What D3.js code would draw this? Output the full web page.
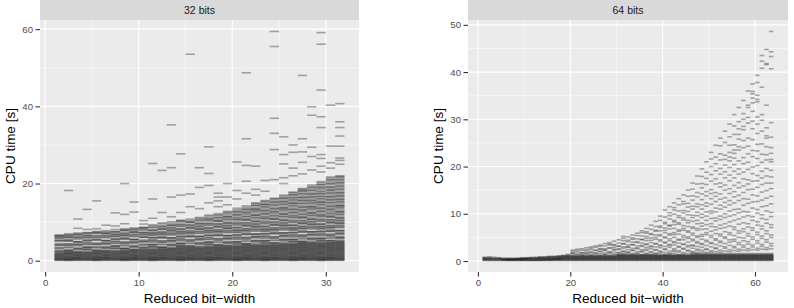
<!DOCTYPE html>
<html lang="en">
<head>
<meta charset="UTF-8">
<title>CPU time by reduced bit-width</title>
<script src="https://d3js.org/d3.v7.min.js"></script>
<style>
  body { margin: 0; background: #fff; font-family: "Liberation Sans", Arial, sans-serif; }
  .tick text { fill: #4d4d4d; font-size: 9.6px; font-family: "Liberation Sans", Arial, sans-serif; }
  .tick line { stroke: #333; }
</style>
</head>
<body>
<script>
// facet labels
const facetTitles = ["32 bits", "64 bits"];

// reduced bit-width columns
const bits32 = [1,2,3,4,5,6,7,8,9,10,11,12,13,14,15,16,17,18,19,20,21,22,23,24,25,26,27,28,29,30,31];
const bits64 = [1,2,3,4,5,6,7,8,9,10,11,12,13,14,15,16,17,18,19,20,21,22,23,24,25,26,27,28,29,30,31,32,
  33,34,35,36,37,38,39,40,41,42,43,44,45,46,47,48,49,50,51,52,53,54,55,56,57,58,59,60,61,62,63];

// CPU times [s], one list per bit-width column
const cpu32 = [
  [0.1,0.2,0.3,0.5,0.6,0.7,0.9,1.0,1.2,1.3,1.5,1.6,1.8,1.9,2.1, 2.3,2.5,2.6,3.0,3.3,3.4,3.9,4.1,4.2,4.5,5.1,5.2,5.4,5.8,5.9,6.2,6.4,6.5,6.7],
  [0.05,0.15,0.25,0.4,0.45,0.65,0.8,0.85,1.05,1.15,1.35,1.45,1.7,1.75,1.95,2.05,2.3,2.35, 2.6,2.7,2.8,3.3,3.5,3.9,4.0,4.3,4.4,5.0,5.2,5.3,5.6,6.0,6.1,6.3,6.6,6.7,7.0, 18.2],
  [0.1,0.15,0.35,0.45,0.55,0.75,0.8,0.95,1.1,1.25,1.4,1.55,1.65,1.85,2.0,2.15,2.25, 2.4,2.8,3.0,3.2,3.3,3.8,4.1,4.2,4.4,4.8,4.9,5.0,5.6,5.8,6.1,6.2,6.6,6.8,6.9,7.2, 8.4,10.8],
  [0.1,0.2,0.3,0.5,0.6,0.7,0.9,1.0,1.2,1.3,1.5,1.6,1.8,1.9,2.1,2.2,2.4, 2.8,2.9,3.1,3.4,3.5,3.6,4.1,4.3,4.6,4.7,5.1,5.3,5.4,5.9,6.0,6.3,6.5,6.6,7.0,7.2,7.3, 8.1,13.3],
  [0.05,0.15,0.25,0.4,0.45,0.65,0.8,0.85,1.05,1.15,1.35,1.45,1.7,1.75,1.95,2.05,2.3,2.35,2.55, 2.7,2.8,3.2,3.5,3.6,4.1,4.3,4.4,4.7,5.3,5.4,5.6,6.0,6.1,6.4,6.6,7.1,7.2,7.4,7.6, 8.3,15.5],
  [0.1,0.15,0.35,0.45,0.55,0.75,0.8,0.95,1.1,1.25,1.4,1.55,1.65,1.85,2.0,2.15,2.25,2.45,2.6, 2.7,3.1,3.3,3.5,3.6,4.1,4.4,4.5,4.7,5.1,5.2,5.3,5.9,6.1,6.4,6.5,6.9,7.1,7.2,7.5,7.8, 9.2],
  [0.1,0.2,0.3,0.5,0.6,0.7,0.9,1.0,1.2,1.3,1.5,1.6,1.8,1.9,2.1,2.2,2.4,2.5,2.7, 3.1,3.2,3.4,3.7,3.8,3.9,4.4,4.6,4.9,5.0,5.4,5.6,5.7,6.2,6.3,6.6,6.8,6.9,7.3,7.5,7.6,8.1, 9.0,12.4],
  [0.05,0.15,0.25,0.4,0.45,0.65,0.8,0.85,1.05,1.15,1.35,1.45,1.7,1.75,1.95,2.05,2.3,2.35,2.55,2.65,2.9, 3.1,3.2,3.3,3.8,4.0,4.4,4.5,4.8,4.9,5.5,5.7,5.8,6.1,6.5,6.6,6.8,7.1,7.2,7.7,7.9,8.0,8.3, 9.6,12.0,20.0],
  [0.1,0.15,0.35,0.45,0.55,0.75,0.8,0.95,1.1,1.25,1.4,1.55,1.65,1.85,2.0,2.15,2.25,2.45,2.6,2.75,2.85, 3.0,3.4,3.6,3.8,3.9,4.4,4.7,4.8,5.0,5.4,5.5,5.6,6.2,6.4,6.7,6.8,7.2,7.4,7.5,7.8,8.1,8.2,8.5, 12.6,15.2],
  [0.1,0.2,0.3,0.5,0.6,0.7,0.9,1.0,1.2,1.3,1.5,1.6,1.8,1.9,2.1,2.2,2.4,2.5,2.7,2.8,3.0, 3.2,3.4,3.5,3.9,4.2,4.3,4.8,5.0,5.1,5.4,6.0,6.1,6.3,6.7,6.8,7.1,7.3,7.4,7.9,8.1,8.4,8.5,8.7, 9.5,10.4],
  [0.05,0.15,0.25,0.4,0.45,0.65,0.8,0.85,1.05,1.15,1.35,1.45,1.7,1.75,1.95,2.05,2.3,2.35,2.55,2.65,2.9,2.95,3.15, 3.5,3.6,3.8,4.1,4.2,4.3,4.8,5.0,5.3,5.4,5.8,6.0,6.1,6.6,6.7,7.0,7.2,7.3,7.7,7.9,8.0,8.5,8.7,9.0,9.3, 11.0,16.0,25.2],
  [0.1,0.15,0.35,0.45,0.55,0.75,0.8,0.95,1.1,1.25,1.4,1.55,1.65,1.85,2.0,2.15,2.25,2.45,2.6,2.75,2.85,3.05,3.2, 3.4,3.5,3.6,4.1,4.3,4.7,4.8,5.1,5.2,5.8,6.0,6.1,6.4,6.8,6.9,7.1,7.4,7.5,8.0,8.2,8.3,8.6,8.9,9.0,9.5,9.8, 12.5,23.4],
  [0.1,0.2,0.3,0.5,0.6,0.7,0.9,1.0,1.2,1.3,1.5,1.6,1.8,1.9,2.1,2.2,2.4,2.5,2.7,2.8,3.0,3.1,3.3, 3.4,3.8,4.0,4.2,4.3,4.8,5.1,5.2,5.4,5.8,5.9,6.0,6.6,6.8,7.1,7.2,7.6,7.8,7.9,8.2,8.5,8.6,9.0,9.2,9.3,9.7,10.1, 11.4,16.5,24.1,35.2],
  [0.05,0.15,0.25,0.4,0.45,0.65,0.8,0.85,1.05,1.15,1.35,1.45,1.7,1.75,1.95,2.05,2.3,2.35,2.55,2.65,2.9,2.95,3.15,3.25,3.5,3.55, 3.8,3.9,4.1,4.4,4.5,4.6,5.1,5.3,5.6,5.7,6.1,6.3,6.4,6.9,7.0,7.3,7.5,7.6,8.0,8.2,8.3,8.8,9.0,9.3,9.4,9.8,10.2,10.3,10.5, 12.5,17.0,27.7],
  [0.1,0.15,0.35,0.45,0.55,0.75,0.8,0.95,1.1,1.25,1.4,1.55,1.65,1.85,2.0,2.15,2.25,2.45,2.6,2.75,2.85,3.05,3.2,3.35,3.45, 3.7,3.8,3.9,4.4,4.6,5.0,5.1,5.4,5.5,6.1,6.3,6.4,6.7,7.1,7.2,7.4,7.7,7.8,8.3,8.5,8.6,8.9,9.2,9.3,9.8,10.0,10.1,10.4,10.8, 14.0,17.3,53.5],
  [0.1,0.2,0.3,0.5,0.6,0.7,0.9,1.0,1.2,1.3,1.5,1.6,1.8,1.9,2.1,2.2,2.4,2.5,2.7,2.8,3.0,3.1,3.3,3.4,3.6, 3.8,4.2,4.4,4.6,4.7,5.2,5.5,5.6,5.8,6.2,6.3,6.4,7.0,7.2,7.5,7.6,8.0,8.2,8.3,8.6,8.9,9.0,9.4,9.6,9.7,10.1,10.5,10.6,11.0,11.2, 13.5,19.0,24.1],
  [0.05,0.15,0.25,0.4,0.45,0.65,0.8,0.85,1.05,1.15,1.35,1.45,1.7,1.75,1.95,2.05,2.3,2.35,2.55,2.65,2.9,2.95,3.15,3.25,3.5,3.55,3.75, 4.1,4.2,4.4,4.7,4.8,4.9,5.4,5.6,5.9,6.0,6.4,6.6,6.7,7.2,7.3,7.6,7.8,7.9,8.3,8.5,8.6,9.1,9.3,9.6,9.7,10.1,10.5,10.6,10.9,11.1,11.5,11.8, 15.0,19.5,22.6,29.5],
  [0.1,0.15,0.35,0.45,0.55,0.75,0.8,0.95,1.1,1.25,1.4,1.55,1.65,1.85,2.0,2.15,2.25,2.45,2.6,2.75,2.85,3.05,3.2,3.35,3.45,3.65,3.8, 4.0,4.1,4.2,4.7,4.9,5.3,5.4,5.7,5.8,6.4,6.6,6.7,7.0,7.4,7.5,7.7,8.0,8.1,8.6,8.8,8.9,9.2,9.5,9.6,10.1,10.3,10.4,10.7,11.1,11.2,11.6,11.9,12.2, 14.0,15.5,16.5,17.5],
  [0.1,0.2,0.3,0.5,0.6,0.7,0.9,1.0,1.2,1.3,1.5,1.6,1.8,1.9,2.1,2.2,2.4,2.5,2.7,2.8,3.0,3.1,3.3,3.4,3.6,3.7,3.9, 4.0,4.4,4.6,4.8,4.9,5.4,5.7,5.8,6.0,6.4,6.5,6.6,7.2,7.4,7.7,7.8,8.2,8.4,8.5,8.8,9.1,9.2,9.6,9.8,9.9,10.3,10.7,10.8,11.2,11.4,11.5,11.9,12.3,12.5,12.8, 14.5,16.5,20.0],
  [0.05,0.15,0.25,0.4,0.45,0.65,0.8,0.85,1.05,1.15,1.35,1.45,1.7,1.75,1.95,2.05,2.3,2.35,2.55,2.65,2.9,2.95,3.15,3.25,3.5,3.55,3.75,3.85, 4.2,4.3,4.5,4.8,4.9,5.0,5.5,5.7,6.0,6.1,6.5,6.7,6.8,7.3,7.4,7.7,7.9,8.0,8.4,8.6,8.7,9.2,9.4,9.7,9.8,10.2,10.6,10.7,11.0,11.2,11.6,11.9,12.0,12.4,12.7,12.8,13.2,13.6, 16.0,18.2,25.6],
  [0.1,0.15,0.35,0.45,0.55,0.75,0.8,0.95,1.1,1.25,1.4,1.55,1.65,1.85,2.0,2.15,2.25,2.45,2.6,2.75,2.85,3.05,3.2,3.35,3.45,3.65,3.8,3.95,4.05, 4.3,4.4,4.5,5.0,5.2,5.6,5.7,6.0,6.1,6.7,6.9,7.0,7.3,7.7,7.8,8.0,8.3,8.4,8.9,9.1,9.2,9.5,9.8,9.9,10.4,10.6,10.7,11.0,11.4,11.5,11.9,12.2,12.5,12.6,13.0,13.3,13.4,13.8,14.2, 17.5,20.6,24.7,31.6,48.7],
  [0.1,0.2,0.3,0.5,0.6,0.7,0.9,1.0,1.2,1.3,1.5,1.6,1.8,1.9,2.1,2.2,2.4,2.5,2.7,2.8,3.0,3.1,3.3,3.4,3.6,3.7,3.9,4.0,4.2, 4.4,4.8,5.0,5.2,5.3,5.8,6.1,6.2,6.4,6.8,6.9,7.0,7.6,7.8,8.1,8.2,8.6,8.8,8.9,9.2,9.5,9.6,10.0,10.2,10.3,10.7,11.1,11.2,11.6,11.8,11.9,12.3,12.7,12.9,13.2,13.4,13.5,13.9,14.3,14.4,14.8,15.0, 17.0,18.5,24.5],
  [0.05,0.15,0.25,0.4,0.45,0.65,0.8,0.85,1.05,1.15,1.35,1.45,1.7,1.75,1.95,2.05,2.3,2.35,2.55,2.65,2.9,2.95,3.15,3.25,3.5,3.55,3.75,3.85,4.1,4.15, 4.5,4.6,4.8,5.1,5.2,5.3,5.8,6.0,6.3,6.4,6.8,7.0,7.1,7.6,7.7,8.0,8.2,8.3,8.7,8.9,9.0,9.5,9.7,10.0,10.1,10.5,10.9,11.0,11.3,11.5,11.9,12.2,12.3,12.7,13.0,13.1,13.5,13.9,14.0,14.4,14.6,14.7,15.1,15.4,15.6, 18.0,20.8],
  [0.1,0.15,0.35,0.45,0.55,0.75,0.8,0.95,1.1,1.25,1.4,1.55,1.65,1.85,2.0,2.15,2.25,2.45,2.6,2.75,2.85,3.05,3.2,3.35,3.45,3.65,3.8,3.95,4.05,4.25, 4.5,4.6,4.7,5.2,5.4,5.8,5.9,6.2,6.3,6.9,7.1,7.2,7.5,7.9,8.0,8.2,8.5,8.6,9.1,9.3,9.4,9.7,10.0,10.1,10.6,10.8,10.9,11.2,11.6,11.7,12.1,12.4,12.7,12.8,13.2,13.5,13.6,14.0,14.4,14.5,14.9,15.2,15.3,15.7,16.0,16.2, 21.0,28.8,33.0,36.9,55.5,59.4],
  [0.1,0.2,0.3,0.5,0.6,0.7,0.9,1.0,1.2,1.3,1.5,1.6,1.8,1.9,2.1,2.2,2.4,2.5,2.7,2.8,3.0,3.1,3.3,3.4,3.6,3.7,3.9,4.0,4.2,4.3,4.5, 4.7,5.1,5.3,5.5,5.6,6.1,6.4,6.5,6.7,7.1,7.2,7.3,7.9,8.1,8.4,8.5,8.9,9.1,9.2,9.5,9.8,9.9,10.3,10.5,10.6,11.0,11.4,11.5,11.9,12.1,12.2,12.6,13.0,13.2,13.5,13.7,13.8,14.2,14.6,14.7,15.1,15.3,15.5,15.9,16.2,16.3,16.7,17.0, 20.0,21.5,25.1,27.5,32.1],
  [0.05,0.15,0.25,0.4,0.45,0.65,0.8,0.85,1.05,1.15,1.35,1.45,1.7,1.75,1.95,2.05,2.3,2.35,2.55,2.65,2.9,2.95,3.15,3.25,3.5,3.55,3.75,3.85,4.1,4.15,4.35,4.45, 4.8,4.9,5.1,5.4,5.5,5.6,6.1,6.3,6.6,6.7,7.1,7.3,7.4,7.9,8.0,8.3,8.5,8.6,9.0,9.2,9.3,9.8,10.0,10.3,10.4,10.8,11.2,11.3,11.6,11.8,12.2,12.5,12.6,13.0,13.3,13.4,13.8,14.2,14.3,14.7,14.9,15.0,15.4,15.7,15.9,16.3,16.4,16.8,17.1,17.2,17.6,17.8, 22.0,24.0,28.1,30.0],
  [0.1,0.15,0.35,0.45,0.55,0.75,0.8,0.95,1.1,1.25,1.4,1.55,1.65,1.85,2.0,2.15,2.25,2.45,2.6,2.75,2.85,3.05,3.2,3.35,3.45,3.65,3.8,3.95,4.05,4.25,4.4,4.55,4.65, 4.9,5.0,5.1,5.6,5.8,6.2,6.3,6.6,6.7,7.3,7.5,7.6,7.9,8.3,8.4,8.6,8.9,9.0,9.5,9.7,9.8,10.1,10.4,10.5,11.0,11.2,11.3,11.6,12.0,12.1,12.5,12.8,13.1,13.2,13.6,13.9,14.0,14.4,14.8,14.9,15.3,15.6,15.7,16.1,16.4,16.5,16.9,17.3,17.4,17.8,18.1,18.2,18.5,18.7, 22.5,25.5,28.2,31.6,48.0],
  [0.1,0.2,0.3,0.5,0.6,0.7,0.9,1.0,1.2,1.3,1.5,1.6,1.8,1.9,2.1,2.2,2.4,2.5,2.7,2.8,3.0,3.1,3.3,3.4,3.6,3.7,3.9,4.0,4.2,4.3,4.5,4.6,4.8, 5.0,5.4,5.6,5.8,5.9,6.4,6.7,6.8,7.0,7.4,7.5,7.6,8.2,8.4,8.7,8.8,9.2,9.4,9.5,9.8,10.1,10.2,10.6,10.8,10.9,11.3,11.7,11.8,12.2,12.4,12.5,12.9,13.3,13.5,13.8,14.0,14.1,14.5,14.9,15.0,15.4,15.6,15.8,16.2,16.5,16.6,17.0,17.3,17.4,17.8,18.2,18.3,18.7,19.0,19.2,19.6, 23.5,27.0,29.4,37.7,39.9],
  [0.05,0.15,0.25,0.4,0.45,0.65,0.8,0.85,1.05,1.15,1.35,1.45,1.7,1.75,1.95,2.05,2.3,2.35,2.55,2.65,2.9,2.95,3.15,3.25,3.5,3.55,3.75,3.85,4.1,4.15,4.35,4.45,4.7,4.75, 5.1,5.2,5.4,5.7,5.8,5.9,6.4,6.6,6.9,7.0,7.4,7.6,7.7,8.2,8.3,8.6,8.8,8.9,9.3,9.5,9.6,10.1,10.3,10.6,10.7,11.1,11.5,11.6,11.9,12.1,12.5,12.8,12.9,13.3,13.6,13.7,14.1,14.5,14.6,15.0,15.2,15.3,15.7,16.0,16.2,16.6,16.7,17.1,17.4,17.5,17.9,18.1,18.5,18.8,19.0,19.3,19.7,19.8,20.2,20.5, 23.0,24.5,26.5,27.5,34.5,37.3,44.2,56.1,59.1],
  [0.1,0.15,0.35,0.45,0.55,0.75,0.8,0.95,1.1,1.25,1.4,1.55,1.65,1.85,2.0,2.15,2.25,2.45,2.6,2.75,2.85,3.05,3.2,3.35,3.45,3.65,3.8,3.95,4.05,4.25,4.4,4.55,4.65,4.85, 5.1,5.2,5.3,5.8,6.0,6.4,6.5,6.8,6.9,7.5,7.7,7.8,8.1,8.5,8.6,8.8,9.1,9.2,9.7,9.9,10.0,10.3,10.6,10.7,11.2,11.4,11.5,11.8,12.2,12.3,12.7,13.0,13.3,13.4,13.8,14.1,14.2,14.6,15.0,15.1,15.5,15.8,15.9,16.3,16.6,16.7,17.1,17.5,17.6,18.0,18.3,18.4,18.8,19.1,19.2,19.7,20.0,20.1,20.5,20.9,21.0,21.4,21.7, 24.0,25.4,29.7,40.3],
  [0.1,0.2,0.3,0.5,0.6,0.7,0.9,1.0,1.2,1.3,1.5,1.6,1.8,1.9,2.1,2.2,2.4,2.5,2.7,2.8,3.0,3.1,3.3,3.4,3.6,3.7,3.9,4.0,4.2,4.3,4.5,4.6,4.8,4.9,5.1, 5.3,5.7,5.9,6.1,6.2,6.7,7.0,7.1,7.3,7.7,7.8,7.9,8.5,8.7,9.0,9.1,9.5,9.7,9.8,10.1,10.4,10.5,10.9,11.1,11.2,11.6,12.0,12.1,12.5,12.7,12.8,13.2,13.6,13.8,14.1,14.3,14.4,14.8,15.2,15.3,15.7,15.9,16.1,16.5,16.8,16.9,17.3,17.6,17.7,18.1,18.5,18.6,19.0,19.3,19.5,19.9,20.2,20.3,20.7,21.0,21.2,21.6,21.8,22.0, 25.0,26.0,26.6,29.7,32.3,34.5,36.0,40.7]
];

const cpu64 = [
  [0.1,0.2,0.3,0.4,0.5,0.6,0.7,0.8],
  [0.1,0.2,0.3,0.4,0.5,0.6,0.7,0.9],
  [0.1,0.2,0.3,0.4,0.5,0.6,0.8],
  [0.1,0.2,0.3,0.4,0.5,0.6,0.7],
  [0.1,0.2,0.25,0.3,0.4,0.5,0.6],
  [0.1,0.15,0.2,0.3,0.35,0.4,0.5,0.6],
  [0.1,0.15,0.2,0.3,0.35,0.4,0.5,0.6],
  [0.1,0.15,0.2,0.3,0.4,0.45,0.5,0.6],
  [0.1,0.15,0.2,0.3,0.4,0.45,0.5,0.6,0.7],
  [0.1,0.15,0.2,0.3,0.4,0.5,0.55,0.6,0.7],
  [0.1,0.15,0.2,0.3,0.4,0.5,0.6,0.7,0.75],
  [0.1,0.15,0.2,0.3,0.4,0.5,0.6,0.7,0.8],
  [0.1,0.15,0.2,0.3,0.4,0.5,0.6,0.7,0.8,0.85],
  [0.1,0.2,0.25,0.3,0.4,0.5,0.6,0.7,0.8,0.9],
  [0.1,0.2,0.25,0.3,0.4,0.5,0.6,0.7,0.8,0.9,1.0],
  [0.1,0.2,0.3,0.35,0.4,0.5,0.6,0.7,0.8,0.9,1.0],
  [0.1,0.2,0.3,0.4,0.45,0.5,0.6,0.7,0.8,0.9,1.0,1.1],
  [0.1,0.2,0.3,0.4,0.5,0.6,0.7,0.8,0.9,1.0,1.1,1.2],
  [0.1,0.2,0.3,0.4,0.5,0.6,0.7,0.8,0.9,1.0,1.1,1.2,1.4],
  [0.1,0.2,0.3,0.4,0.5,0.6,0.7,0.8,0.9,1.0,1.1, 1.3,1.6,1.7,2.0,2.3],
  [0.1,0.2,0.3,0.4,0.5,0.6,0.7,0.8,0.9,1.0,1.1, 1.3,1.5,1.9,2.2,2.5],
  [0.1,0.2,0.3,0.4,0.5,0.6,0.7,0.8,0.9,1.0,1.1, 1.2,1.4,1.7,1.8,2.3,2.6],
  [0.1,0.2,0.3,0.4,0.5,0.6,0.7,0.8,0.9,1.0,1.1, 1.3,1.6,1.7,2.1,2.4,2.8],
  [0.1,0.2,0.3,0.4,0.5,0.6,0.7,0.8,0.9,1.0,1.1, 1.2,1.4,1.8,1.9,2.4,2.7,3.0],
  [0.1,0.2,0.3,0.4,0.5,0.6,0.7,0.8,0.9,1.0,1.1, 1.3,1.6,1.7,2.2,2.3,2.9,3.2],
  [0.1,0.2,0.3,0.4,0.5,0.6,0.7,0.8,0.9,1.0,1.1, 1.2,1.5,1.9,2.1,2.5,2.6,3.1,3.4],
  [0.1,0.2,0.3,0.4,0.5,0.6,0.7,0.8,0.9,1.0,1.1, 1.3,1.4,1.7,2.2,2.4,2.6,3.2,3.7],
  [0.1,0.2,0.3,0.4,0.5,0.6,0.7,0.8,0.9,1.0,1.1, 1.2,1.6,1.8,2.0,2.7,2.8,3.4,3.6,3.9],
  [0.1,0.2,0.3,0.4,0.5,0.6,0.7,0.8,0.9,1.0,1.1, 1.3,1.5,1.9,2.3,2.5,2.9,3.3,3.5,4.2],
  [0.1,0.2,0.3,0.4,0.5,0.6,0.7,0.8,0.9,1.0,1.1,1.2,1.3, 1.4,1.7,1.8,2.4,2.6,3.1,3.2,3.8,4.5],
  [0.1,0.2,0.3,0.4,0.5,0.6,0.7,0.8,0.9,1.0,1.1,1.2,1.3, 1.4,1.6,2.0,2.1,2.7,3.0,3.6,3.7,4.3,4.8,5.2],
  [0.1,0.2,0.3,0.4,0.5,0.6,0.7,0.8,0.9,1.0,1.1,1.2,1.3, 1.5,1.8,1.9,2.4,2.9,3.0,3.4,4.1,4.4,5.1],
  [0.1,0.2,0.3,0.4,0.5,0.6,0.7,0.8,0.9,1.0,1.1,1.2,1.3, 1.4,1.6,2.2,2.3,2.7,3.4,3.5,4.0,4.6,4.9,5.5],
  [0.1,0.2,0.3,0.4,0.5,0.6,0.7,0.8,0.9,1.0,1.1,1.2,1.3, 1.5,1.7,2.0,2.6,2.8,3.2,3.9,4.1,4.7,5.4,5.9],
  [0.1,0.2,0.3,0.4,0.5,0.6,0.7,0.8,0.9,1.0,1.1,1.2,1.3, 1.4,1.9,2.1,2.4,3.1,3.3,3.8,4.5,4.6,5.3,6.0,6.4],
  [0.1,0.2,0.3,0.4,0.5,0.6,0.7,0.8,0.9,1.0,1.1,1.2,1.3, 1.5,1.6,2.2,2.5,2.9,3.5,3.6,4.3,4.8,5.2,5.9,6.2,6.9],
  [0.1,0.2,0.3,0.4,0.5,0.6,0.7,0.8,0.9,1.0,1.1,1.2,1.3, 1.4,1.8,2.0,2.6,3.0,3.2,3.9,4.4,4.9,5.6,5.8,6.7,7.6],
  [0.1,0.2,0.3,0.4,0.5,0.6,0.7,0.8,0.9,1.0,1.1,1.2,1.3, 1.5,1.7,2.3,2.4,3.0,3.6,3.7,4.6,5.0,5.5,6.3,6.5,7.3,8.4],
  [0.1,0.2,0.3,0.4,0.5,0.6,0.7,0.8,0.9,1.0,1.1,1.2,1.3, 1.6,1.9,2.1,2.8,3.2,3.4,4.2,4.5,5.3,5.6,6.4,7.1,7.4,8.6,9.5],
  [0.1,0.2,0.3,0.4,0.5,0.6,0.7,0.8,0.9,1.0,1.1,1.2,1.3, 1.4,1.8,2.4,2.6,3.1,3.8,4.0,4.9,5.1,6.0,6.5,7.0,7.9,8.2,9.3,10.8],
  [0.1,0.2,0.3,0.4,0.5,0.6,0.7,0.8,0.9,1.0,1.1,1.2,1.3, 1.5,1.7,2.1,2.9,3.3,3.5,4.3,4.7,5.5,5.8,6.8,7.4,7.6,8.9,9.6,10.2,11.5],
  [0.1,0.2,0.3,0.4,0.5,0.6,0.7,0.8,0.9,1.0,1.1,1.2,1.3, 1.6,2.0,2.3,2.6,3.4,3.9,4.1,5.0,5.6,6.0,6.9,7.7,8.3,8.6,9.9,10.8,11.3,12.3],
  [0.1,0.2,0.3,0.4,0.5,0.6,0.7,0.8,0.9,1.0,1.1,1.2,1.3, 1.4,1.9,2.2,2.9,3.1,3.8,4.4,4.6,5.7,6.3,6.6,7.8,8.1,9.2,9.6,10.6,11.9,13.2],
  [0.1,0.2,0.3,0.4,0.5,0.6,0.7,0.8,0.9,1.0,1.1,1.2,1.3, 1.5,1.8,2.5,2.7,3.5,3.6,4.5,5.0,5.4,6.5,6.9,7.5,8.7,9.1,10.2,10.7,12.1,12.6,14.0],
  [0.1,0.2,0.3,0.4,0.5,0.6,0.7,0.8,0.9,1.0,1.1,1.2,1.3, 1.6,2.1,2.3,3.0,3.3,4.0,4.8,5.1,6.1,6.4,7.3,8.1,8.6,9.8,10.5,11.4,12.2,13.7,15.0],
  [0.1,0.2,0.3,0.4,0.5,0.6,0.7,0.8,0.9,1.0,1.1,1.2,1.3,1.4,1.6, 1.8,2.0,2.7,3.2,3.4,4.3,4.6,5.5,5.9,6.9,7.2,8.4,9.2,9.7,11.0,11.6,12.9,13.8,15.2,16.5],
  [0.1,0.2,0.3,0.4,0.5,0.6,0.7,0.8,0.9,1.0,1.1,1.2,1.3,1.4,1.6, 1.7,2.2,2.5,3.1,3.8,4.1,5.0,5.3,6.5,6.9,7.9,8.6,9.6,10.3,11.5,12.1,13.6,14.5,16.3,18.0],
  [0.1,0.2,0.3,0.4,0.5,0.6,0.7,0.8,0.9,1.0,1.1,1.2,1.3,1.4,1.6, 1.9,2.3,2.9,3.5,3.7,4.6,5.2,5.6,6.7,7.4,8.0,9.2,9.9,11.0,11.9,13.0,14.2,15.5,16.4,17.9,19.5],
  [0.1,0.2,0.3,0.4,0.5,0.6,0.7,0.8,0.9,1.0,1.1,1.2,1.3,1.4,1.6, 1.8,2.4,2.6,3.3,4.1,4.4,5.6,6.0,6.8,7.7,8.6,9.5,10.4,11.6,12.3,13.8,14.7,16.2,17.5,18.8,21.0],
  [0.1,0.2,0.3,0.4,0.5,0.6,0.7,0.8,0.9,1.0,1.1,1.2,1.3,1.4,1.6, 1.9,2.2,3.0,3.7,3.9,5.0,5.4,6.3,7.3,7.9,9.0,10.1,10.6,12.0,13.2,14.3,15.1,16.9,18.3,20.0,21.6,23.0],
  [0.1,0.2,0.3,0.4,0.5,0.6,0.7,0.8,0.9,1.0,1.1,1.2,1.3,1.4,1.6, 2.0,2.6,2.8,3.5,4.4,4.7,5.8,6.6,7.2,8.5,9.1,10.4,11.2,12.6,13.7,14.5,16.3,17.4,19.1,20.6,22.0,24.5],
  [0.1,0.2,0.3,0.4,0.5,0.6,0.7,0.8,0.9,1.0,1.1,1.2,1.3,1.4,1.6, 1.9,2.3,3.2,3.9,4.2,5.3,5.7,6.9,7.6,8.8,9.5,11.0,11.8,13.1,14.2,15.7,16.5,18.4,19.6,21.4,22.7,24.4,26.0],
  [0.1,0.2,0.3,0.4,0.5,0.6,0.7,0.8,0.9,1.0,1.1,1.2,1.3,1.4,1.6, 2.1,2.7,3.0,3.7,4.8,5.1,6.2,7.1,7.9,9.2,10.0,11.4,12.4,13.4,15.0,16.1,17.6,18.9,20.3,21.5,22.4,25.1,27.5],
  [0.1,0.2,0.3,0.4,0.5,0.6,0.7,0.8,0.9,1.0,1.1,1.2,1.3,1.4,1.6, 2.0,2.4,3.3,4.0,4.5,5.6,6.0,7.4,8.3,9.5,10.6,11.9,12.8,14.3,15.3,17.0,18.2,19.8,21.2,22.0,23.0,24.5,26.3,29.0],
  [0.1,0.2,0.3,0.4,0.5,0.6,0.7,0.8,0.9,1.0,1.1,1.2,1.3,1.4,1.6, 2.2,2.8,3.1,4.2,4.6,5.4,6.7,7.2,8.6,9.8,10.9,12.3,13.6,14.7,16.0,17.6,19.0,20.4,21.8,22.8,23.5,24.6,26.8,28.6,31.0],
  [0.1,0.2,0.3,0.4,0.5,0.6,0.7,0.8,0.9,1.0,1.1,1.2,1.3,1.4,1.6, 2.1,2.5,3.5,3.9,5.0,5.9,6.4,7.8,8.9,10.2,11.0,12.8,13.9,15.5,16.6,18.4,19.5,21.2,23.5,24.2,25.8,26.8,28.0,29.5,32.5],
  [0.1,0.2,0.3,0.4,0.5,0.6,0.7,0.8,0.9,1.0,1.1,1.2,1.3,1.4,1.6, 2.3,2.9,3.3,4.3,4.9,6.2,6.8,8.1,9.3,10.5,11.8,13.2,14.5,15.9,17.4,18.8,20.6,21.9,24.0,25.5,27.8,28.5,30.0,31.2,34.0],
  [0.1,0.2,0.3,0.4,0.5,0.6,0.7,0.8,0.9,1.0,1.1,1.2,1.3,1.4,1.6, 2.2,2.6,3.6,4.1,5.3,5.8,7.2,7.9,9.6,10.4,12.2,13.1,15.1,16.3,17.2,19.4,20.9,22.7,24.3,26.0,29.2,30.4,32.5,33.0,36.0],
  [0.1,0.2,0.3,0.4,0.5,0.6,0.7,0.8,0.9,1.0,1.1,1.2,1.3,1.4,1.6, 2.4,3.0,3.4,4.6,5.1,6.5,7.0,8.6,9.4,11.2,12.5,14.0,15.2,16.9,18.5,19.9,22.1,23.4,25.7,28.0,29.6,31.7,33.5,34.5,35.4,35.9,37.5],
  [0.1,0.2,0.3,0.4,0.5,0.6,0.7,0.8,0.9,1.0,1.1,1.2,1.3,1.4,1.6, 2.3,2.7,3.8,4.3,5.6,6.1,7.6,8.3,10.1,10.9,12.6,13.8,15.6,17.0,18.1,20.2,21.7,23.3,24.7,27.0,29.0,30.5,33.7,34.2,35.1,37.8,39.3],
  [0.1,0.2,0.3,0.4,0.5,0.6,0.7,0.8,0.9,1.0,1.1,1.2,1.3,1.4,1.6, 2.5,3.1,3.5,4.8,5.3,6.8,7.4,9.0,9.8,11.5,12.9,14.6,16.2,17.6,19.0,20.9,22.6,24.8,27.5,29.8,31.0,36.8,40.8,42.3,43.5],
  [0.1,0.2,0.3,0.4,0.5,0.6,0.7,0.8,0.9,1.0,1.1,1.2,1.3,1.4,1.6, 2.4,2.8,4.0,4.5,5.8,6.4,8.0,8.8,10.6,11.7,13.3,14.9,16.5,18.0,19.6,21.4,22.5,24.2,26.0,26.5,28.2,33.0,41.6,41.8,44.8],
  [0.1,0.2,0.3,0.4,0.5,0.6,0.7,0.8,0.9,1.0,1.1,1.2,1.3,1.4,1.6, 2.6,3.2,3.7,5.0,5.5,7.1,7.7,9.4,10.3,12.1,13.7,15.3,16.5,17.8,19.2,21.0,21.5,22.8,24.0,26.2,29.3,40.7,43.3,44.3,48.6]
];

// axis breaks
const xTicks32 = [0, 10, 20, 30];
const yTicks32 = [0, 20, 40, 60];
const xTicks64 = [0, 20, 40, 60];
const yTicks64 = [0, 10, 20, 30, 40, 50];

const W = 794, H = 308;
const stripTop = 0, panelTop = 20, panelBottom = 272;

const svg = d3.select("body").append("svg")
  .attr("width", W)
  .attr("height", H);

const panels = [
  { title: facetTitles[0], bits: bits32, cpu: cpu32, xTicks: xTicks32, yTicks: yTicks32, left: 40, right: 359, ylabX: 10 },
  { title: facetTitles[1], bits: bits64, cpu: cpu64, xTicks: xTicks64, yTicks: yTicks64, left: 468, right: 788, ylabX: 438 }
];

// midpoints between major breaks, extended one step each side
function minorBreaks(ticks) {
  const step = ticks[1] - ticks[0];
  const out = [];
  for (let t = ticks[0] - step / 2; t <= ticks[ticks.length - 1] + step; t += step) out.push(t);
  return out;
}

panels.forEach(function (p) {
  const allY = p.cpu.flat();
  const xmin = d3.min(p.bits), xmax = d3.max(p.bits) + 1;
  const ymin = d3.min(allY), ymax = d3.max(allY);
  const xpad = (xmax - xmin) * 0.05, ypad = (ymax - ymin) * 0.05;

  const x = d3.scaleLinear().domain([xmin - xpad, xmax + xpad]).range([p.left, p.right]);
  const y = d3.scaleLinear().domain([ymin - ypad, ymax + ypad]).range([panelBottom, panelTop]);

  const g = svg.append("g");

  // strip
  g.append("rect")
    .attr("x", p.left).attr("y", stripTop)
    .attr("width", p.right - p.left).attr("height", panelTop - stripTop)
    .attr("fill", "#d9d9d9");
  g.append("text")
    .attr("x", (p.left + p.right) / 2).attr("y", (stripTop + panelTop) / 2)
    .attr("text-anchor", "middle").attr("dominant-baseline", "central")
    .attr("font-size", "10.5px").attr("fill", "#1a1a1a")
    .text(p.title);

  // panel background
  g.append("rect")
    .attr("x", p.left).attr("y", panelTop)
    .attr("width", p.right - p.left).attr("height", panelBottom - panelTop)
    .attr("fill", "#ebebeb");

  const [dx0, dx1] = x.domain();
  const [dy0, dy1] = y.domain();

  // minor grid
  g.selectAll(".gx-minor").data(minorBreaks(p.xTicks).filter(d => d > dx0 && d < dx1))
    .enter().append("line")
    .attr("x1", d => x(d)).attr("x2", d => x(d))
    .attr("y1", panelTop).attr("y2", panelBottom)
    .attr("stroke", "#fff").attr("stroke-width", 0.55);
  g.selectAll(".gy-minor").data(minorBreaks(p.yTicks).filter(d => d > dy0 && d < dy1))
    .enter().append("line")
    .attr("x1", p.left).attr("x2", p.right)
    .attr("y1", d => y(d)).attr("y2", d => y(d))
    .attr("stroke", "#fff").attr("stroke-width", 0.55);

  // major grid
  g.selectAll(".gx").data(p.xTicks)
    .enter().append("line")
    .attr("x1", d => x(d)).attr("x2", d => x(d))
    .attr("y1", panelTop).attr("y2", panelBottom)
    .attr("stroke", "#fff").attr("stroke-width", 1.1);
  g.selectAll(".gy").data(p.yTicks)
    .enter().append("line")
    .attr("x1", p.left).attr("x2", p.right)
    .attr("y1", d => y(d)).attr("y2", d => y(d))
    .attr("stroke", "#fff").attr("stroke-width", 1.1);

  // one short dash per run, spanning its bit-width column
  const dashes = [];
  p.cpu.forEach(function (col, i) {
    col.forEach(function (v) { dashes.push({ bw: p.bits[i], t: v }); });
  });
  g.selectAll(".dash").data(dashes)
    .enter().append("line")
    .attr("x1", d => x(d.bw)).attr("x2", d => x(d.bw + 1))
    .attr("y1", d => y(d.t)).attr("y2", d => y(d.t))
    .attr("stroke", "#000").attr("stroke-opacity", 0.32)
    .attr("stroke-width", 1.6);

  // axes
  const xAxis = g.append("g")
    .attr("transform", "translate(0," + panelBottom + ")")
    .call(d3.axisBottom(x).tickValues(p.xTicks).tickSize(4.5).tickPadding(2.5));
  const yAxis = g.append("g")
    .attr("transform", "translate(" + p.left + ",0)")
    .call(d3.axisLeft(y).tickValues(p.yTicks).tickSize(4.5).tickPadding(2.5));
  xAxis.select(".domain").remove();
  yAxis.select(".domain").remove();
  xAxis.selectAll(".tick line").attr("stroke-width", 1.1);
  yAxis.selectAll(".tick line").attr("stroke-width", 1.1);

  // titles
  g.append("text")
    .attr("x", (p.left + p.right) / 2).attr("y", 298)
    .attr("text-anchor", "middle").attr("dominant-baseline", "central")
    .attr("font-size", "13.5px").attr("fill", "#000")
    .text("Reduced bit\u2212width");
  g.append("text")
    .attr("transform", "translate(" + p.ylabX + "," + ((panelTop + panelBottom) / 2) + ") rotate(-90)")
    .attr("text-anchor", "middle").attr("dominant-baseline", "central")
    .attr("font-size", "13.5px").attr("fill", "#000")
    .text("CPU time [s]");
});
</script>
</body>
</html>
